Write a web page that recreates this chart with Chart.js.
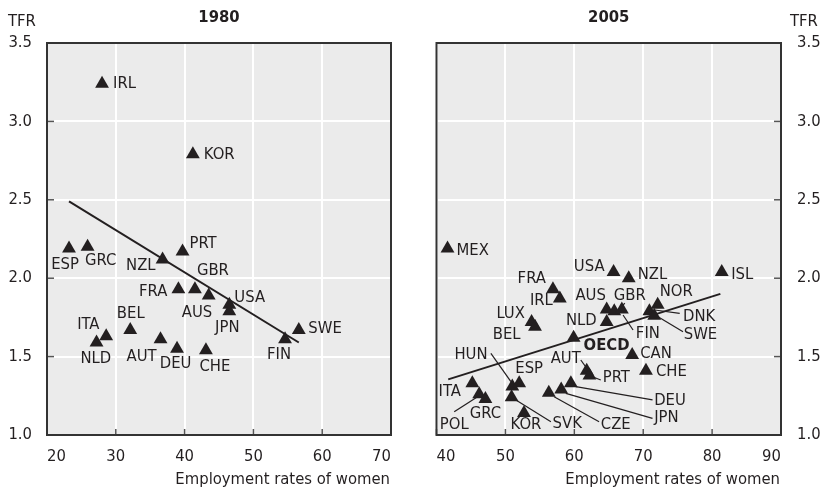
<!DOCTYPE html>
<html>
<head>
<meta charset="utf-8">
<script src="https://cdn.jsdelivr.net/npm/chart.js@4.4.0/dist/chart.umd.min.js"></script>
<style>
  html, body { margin: 0; padding: 0; background: #fff; }
  #wrap { position: relative; width: 822px; height: 490px; }
  .panel { position: absolute; top: 0; height: 490px; }
  #left { left: 0; width: 410px; }
  #right { left: 410px; width: 412px; }
</style>
</head>
<body>
<div id="wrap">
  <div class="panel" id="left"><canvas id="c1980"></canvas></div>
  <div class="panel" id="right"><canvas id="c2005"></canvas></div>
</div>
<script>
// 1980
const countries1980 = ["IRL", "KOR", "ESP", "GRC", "NZL", "PRT", "FRA", "GBR", "AUS", "USA",
  "JPN", "FIN", "SWE", "ITA", "NLD", "BEL", "AUT", "DEU", "CHE"];
const emp1980 = [28.0, 41.2, 23.2, 25.9, 36.8, 39.7, 39.1, 41.5, 43.5, 46.5,
  46.5, 54.6, 56.6, 28.6, 27.2, 32.1, 36.5, 38.9, 43.1];
const tfr1980 = [3.24, 2.79, 2.19, 2.20, 2.12, 2.17, 1.93, 1.93, 1.89, 1.83,
  1.79, 1.61, 1.67, 1.63, 1.59, 1.67, 1.61, 1.55, 1.54];
const trendX1980 = [23.2, 56.6];
const trendY1980 = [2.49, 1.59];

// 2005
const countries2005 = ["MEX", "USA", "NZL", "ISL", "FRA", "IRL", "LUX", "BEL", "AUS", "GBR",
  "FIN", "NLD", "NOR", "DNK", "SWE", "OECD", "CAN", "CHE", "AUT", "PRT",
  "HUN", "ESP", "ITA", "POL", "GRC", "KOR", "SVK", "CZE", "JPN", "DEU"];
const emp2005 = [41.6, 65.7, 67.9, 81.4, 56.9, 57.9, 53.8, 54.3, 64.7, 65.8,
  66.9, 64.7, 72.1, 70.9, 71.6, 59.9, 68.4, 70.4, 61.8, 62.2,
  51.0, 52.0, 45.2, 46.2, 47.1, 52.7, 50.9, 56.3, 58.1, 59.5];
const tfr2005 = [2.19, 2.04, 2.00, 2.04, 1.93, 1.87, 1.72, 1.69, 1.80, 1.79,
  1.80, 1.72, 1.83, 1.79, 1.76, 1.62, 1.51, 1.41, 1.41, 1.38,
  1.31, 1.33, 1.33, 1.26, 1.23, 1.14, 1.24, 1.27, 1.29, 1.33];
const trendX2005 = [41.7, 81.2];
const trendY2005 = [1.355, 1.90];

const xTicks1980 = [20, 30, 40, 50, 60, 70];
const xTicks2005 = [40, 50, 60, 70, 80, 90];
const yTicks = [1.0, 1.5, 2.0, 2.5, 3.0, 3.5];

// label placement: [align, dx, dy, leader offsets]
const place1980 = {
  IRL: ["left", 11, 0], KOR: ["left", 11, 0], ESP: ["center", -4, 16.5],
  GRC: ["center", 13, 14], NZL: ["right", -7, 6.6], PRT: ["left", 7, -8],
  GBR: ["center", 18, -18.5], FRA: ["right", -11, 2.5], AUS: ["center", -11.7, 17.3],
  USA: ["left", 5, -7.6], JPN: ["center", -2, 17], FIN: ["center", -6, 15.6],
  SWE: ["left", 9.5, -1.6], ITA: ["center", -17.8, -11.2], NLD: ["center", -0.7, 15.8],
  BEL: ["center", 0.5, -16], AUT: ["center", -19, 17.3], DEU: ["center", -1.4, 15.2],
  CHE: ["center", 9, 16.4]
};
const place2005 = {
  MEX: ["left", 9, 2], USA: ["right", -9, -5], NZL: ["left", 9, -3], ISL: ["left", 9.5, 3],
  FRA: ["right", -7, -10], IRL: ["right", -7, 2], LUX: ["right", -6.7, -8],
  BEL: ["right", -14.5, 8], AUS: ["center", -16, -13.6],
  GBR: ["center", 15.5, -15, [10.5, -8, 5.5, -2]],
  FIN: ["left", 14, 24, [11.2, 20.4, 1.2, 5.4]],
  NLD: ["right", -10, -1], NOR: ["left", 2, -13],
  DNK: ["left", 33.6, 5.6, [5.3, -1.1, 30.3, 2.2]],
  SWE: ["left", 29.5, 19, [3.8, 0.9, 28.8, 15.9]],
  OECD: ["left", 10, 8], CAN: ["left", 8, -1.7], CHE: ["left", 10, 1.5],
  HUN: ["right", -24.7, -31.4, [-21.4, -33.1, -1.4, -4.7]],
  ESP: ["center", 10, -14.3],
  AUT: ["right", -5.9, -11.7, [-5.9, -10.7, 2.4, 1]],
  PRT: ["left", 13.3, 2.6, [3, 1.3, 11.3, 4.6]],
  ITA: ["right", -11.4, 8.4],
  POL: ["center", -25, 30, [-25, 17.5, -1.6, 2.5]],
  GRC: ["center", 0, 15], KOR: ["center", 2, 11.5],
  SVK: ["left", 41, 26.8, [4.3, 2.6, 39.3, 24.3]],
  CZE: ["left", 52, 32.3, [5.3, 4, 50.3, 29]],
  JPN: ["left", 93, 28, [4.6, 3.8, 91.3, 28.8]],
  DEU: ["left", 83.3, 17.5, [5, 3.4, 81.7, 16.7]]
};

const FONT = "'DejaVu Sans Condensed', 'Liberation Sans Narrow', 'Roboto', sans-serif";
const INK = "#231f20";

// фон, рамка, подписи
const panelPlugin = {
  id: "panel",
  beforeDraw(chart) {
    const a = chart.chartArea, ctx = chart.ctx;
    ctx.save();
    ctx.fillStyle = "#ebebeb";
    ctx.fillRect(a.left, a.top, a.right - a.left, a.bottom - a.top);
    ctx.restore();
  },
  afterDraw(chart) {
    const o = chart.options.plugins.panel;
    const a = chart.chartArea, ctx = chart.ctx;
    const xs = chart.scales.x, ys = chart.scales.y;
    ctx.save();
    // ticks inside
    ctx.strokeStyle = "#555";
    ctx.lineWidth = 1.5;
    ys.ticks.forEach(t => {
      const y = ys.getPixelForValue(t.value);
      ctx.beginPath();
      if (o.yRight) { ctx.moveTo(a.right, y); ctx.lineTo(a.right - 7, y); }
      else { ctx.moveTo(a.left, y); ctx.lineTo(a.left + 7, y); }
      ctx.stroke();
    });
    xs.ticks.forEach(t => {
      const x = xs.getPixelForValue(t.value);
      ctx.beginPath();
      ctx.moveTo(x, a.bottom); ctx.lineTo(x, a.bottom - 6);
      ctx.stroke();
    });
    // frame
    ctx.strokeStyle = "#333";
    ctx.lineWidth = 2;
    ctx.strokeRect(a.left, a.top, a.right - a.left, a.bottom - a.top);

    // point labels
    ctx.fillStyle = INK;
    ctx.strokeStyle = INK;
    ctx.lineWidth = 1.2;
    ctx.textBaseline = "middle";
    o.names.forEach((name, i) => {
      const p = o.place[name];
      if (!p) return;
      const px = xs.getPixelForValue(o.xs[i]);
      const py = ys.getPixelForValue(o.ys[i]);
      ctx.font = (name === "OECD" ? "bold " : "") + "16.5px " + FONT;
      ctx.textAlign = p[0];
      ctx.fillText(name, px + p[1], py + p[2]);
      if (p[3]) {
        const l = p[3];
        ctx.beginPath();
        ctx.moveTo(px + l[0], py + l[1]);
        ctx.lineTo(px + l[2], py + l[3]);
        ctx.stroke();
      }
    });

    // titles
    ctx.textAlign = "center";
    ctx.font = "bold 16.5px " + FONT;
    ctx.fillText(o.title, (a.left + a.right) / 2, 18);
    ctx.font = "16.5px " + FONT;
    ctx.textAlign = "left";
    ctx.fillText("TFR", o.tfrX, 22);
    ctx.textAlign = "right";
    ctx.fillText("Employment rates of women", a.right - 1, 480);
    ctx.restore();
  }
};

function makeChart(id, cfg) {
  const ctx = document.getElementById(id).getContext("2d");
  return new Chart(ctx, {
    type: "scatter",
    data: {
      datasets: [
        {
          data: cfg.xs.map((x, i) => ({ x: x, y: cfg.ys[i] })),
          pointStyle: "triangle",
          pointRadius: 8,
          pointHoverRadius: 8,
          backgroundColor: INK,
          borderColor: INK,
          borderWidth: 0,
          order: 1
        },
        {
          type: "line",
          data: cfg.tx.map((x, i) => ({ x: x, y: cfg.ty[i] })),
          borderColor: INK,
          borderWidth: 2,
          pointRadius: 0,
          fill: false,
          order: 2
        }
      ]
    },
    options: {
      responsive: true,
      maintainAspectRatio: false,
      animation: false,
      events: [],
      layout: { padding: cfg.padding },
      plugins: {
        legend: { display: false },
        tooltip: { enabled: false },
        panel: {
          names: cfg.names, xs: cfg.xs, ys: cfg.ys, place: cfg.place,
          title: cfg.title, tfrX: cfg.tfrX, yRight: cfg.yRight
        }
      },
      scales: {
        x: {
          type: "linear",
          min: cfg.xTicks[0],
          max: cfg.xTicks[cfg.xTicks.length - 1],
          afterBuildTicks: s => { s.ticks = cfg.xTicks.map(v => ({ value: v })); },
          afterFit: s => { s.height = 55; },
          grid: { color: "#ffffff", lineWidth: 2, drawTicks: false },
          border: { display: false },
          ticks: {
            align: "inner",
            padding: 12,
            color: INK,
            font: { family: FONT, size: 16.5 },
            callback: v => String(v)
          }
        },
        y: {
          type: "linear",
          position: cfg.yRight ? "right" : "left",
          min: yTicks[0],
          max: yTicks[yTicks.length - 1],
          afterBuildTicks: s => { s.ticks = yTicks.map(v => ({ value: v })); },
          afterFit: s => { s.width = cfg.yWidth; },
          grid: { color: "#ffffff", lineWidth: 2, drawTicks: false },
          border: { display: false },
          ticks: {
            padding: cfg.yRight ? 16 : 15,
            color: INK,
            font: { family: FONT, size: 16.5 },
            callback: v => Number(v).toFixed(1)
          }
        }
      }
    },
    plugins: [panelPlugin]
  });
}

makeChart("c1980", {
  names: countries1980, xs: emp1980, ys: tfr1980, tx: trendX1980, ty: trendY1980,
  place: place1980, xTicks: xTicks1980, title: "1980", tfrX: 8, yRight: false,
  yWidth: 47, padding: { top: 43, right: 19, bottom: 0, left: 0 }
});
makeChart("c2005", {
  names: countries2005, xs: emp2005, ys: tfr2005, tx: trendX2005, ty: trendY2005,
  place: place2005, xTicks: xTicks2005, title: "2005", tfrX: 380, yRight: true,
  yWidth: 41, padding: { top: 43, right: 0, bottom: 0, left: 26.5 }
});
</script>
</body>
</html>
